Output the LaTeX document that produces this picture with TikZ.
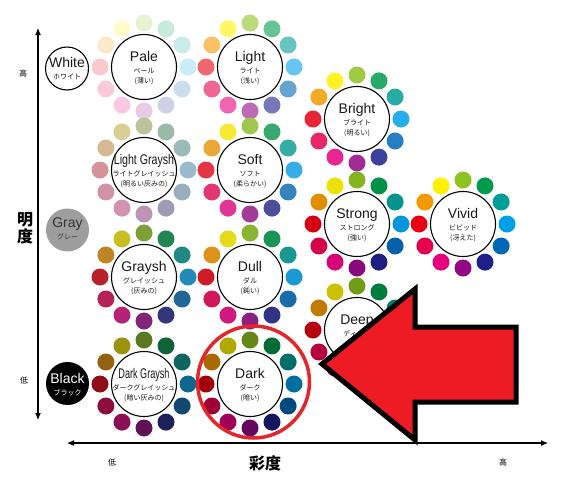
\documentclass[tikz,border=0pt]{standalone}
\usepackage{fontspec}
\setmainfont{Liberation Sans}
\newfontfamily\jp{Noto Sans CJK JP}
\usepackage{graphicx}
\usetikzlibrary{arrows.meta,calc}
\definecolor{hc0}{HTML}{8DC21F}
\definecolor{hc1}{HTML}{009B4C}
\definecolor{hc2}{HTML}{009E96}
\definecolor{hc3}{HTML}{00A0E9}
\definecolor{hc4}{HTML}{0068B7}
\definecolor{hc5}{HTML}{1D2088}
\definecolor{hc6}{HTML}{920783}
\definecolor{hc7}{HTML}{E4007F}
\definecolor{hc8}{HTML}{E5004F}
\definecolor{hc9}{HTML}{E60012}
\definecolor{hc10}{HTML}{F39800}
\definecolor{hc11}{HTML}{FFF100}
\definecolor{lgmix}{HTML}{CCC4C4}
\definecolor{sfmix}{HTML}{D8D8D8}
\definecolor{grmix}{HTML}{606060}
\definecolor{dlmix}{HTML}{808080}
\definecolor{dgmix}{HTML}{202020}
\definecolor{stmix}{HTML}{202020}
\definecolor{ringred}{HTML}{E3262B}
\definecolor{arrowred}{HTML}{ED1C24}
\definecolor{grayfill}{HTML}{9E9E9E}
\tikzset{
  tonec/.style={circle,draw=black,line width=1.1pt,fill=white,minimum size=65pt,inner sep=0pt},
  lbl/.style={anchor=base,inner sep=0pt,font=\fontsize{14}{16}\selectfont,text=black!90},
  subl/.style={anchor=base,inner sep=0pt,font=\jp\fontsize{7}{8}\selectfont,text=black!90},
  axis/.style={line width=1.1pt,{Latex[length=7pt,width=6pt]}-{Latex[length=7pt,width=6pt]}},
  axlbl/.style={font=\jp\fontsize{8}{9}\selectfont,inner sep=0pt},
  axttl/.style={font=\jp\bfseries\fontsize{16}{17}\selectfont,inner sep=0pt,align=center},
  solo/.style={circle,minimum size=43pt,inner sep=0pt},
}
\newcommand\tone[8]{%
  \foreach \i in {0,...,11}{\fill[hc\i!#4!#5] (#2,-#3) ++(90-30*\i:44) circle (8.5);}
  \node[tonec] (#1) at (#2,-#3) {};
  \node[lbl] (#1-l) at ([yshift=6pt]#1.center) {#6};
  \node[subl] (#1-a) at ([yshift=-6.7pt]#1.center) {#7};
  \node[subl] (#1-b) at ([yshift=-16.5pt]#1.center) {#8};
}
\begin{document}
\begin{tikzpicture}[x=1pt,y=1pt]
\useasboundingbox (0,0) rectangle (564,-477);
\fill[white] (0,0) rectangle (564,-477);

% tone wheels
\tone{pale}{144}{67}{21}{white}{Pale}{ペール}{(薄い)}
\tone{light}{250}{67}{60}{white}{Light}{ライト}{(浅い)}
\tone{bright}{357}{119}{85}{white}{Bright}{ブライト}{(明るい)}
\tone{lgraysh}{144}{170}{25}{lgmix}{\scalebox{0.76}[1]{Light Graysh}}{ライトグレイッシュ}{(明るい灰みの)}
\tone{soft}{250}{170}{75}{sfmix}{Soft}{ソフト}{(柔らかい)}
\tone{strong}{357}{224}{92}{stmix}{Strong}{ストロング}{(強い)}
\tone{vivid}{463}{224}{100}{white}{Vivid}{ビビッド}{(冴えた)}
\tone{graysh}{144}{277}{65}{grmix}{Graysh}{グレイッシュ}{(灰みの)}
\tone{dull}{250}{277}{80}{dlmix}{Dull}{ダル}{(鈍い)}
\tone{deep}{357}{330}{80}{black}{Deep}{ディープ}{(深い)}
\tone{dgraysh}{144}{384}{55}{dgmix}{\scalebox{0.65}[1]{Dark Graysh}}{ダークグレイッシュ}{(暗い灰みの)}
\tone{dark}{250}{384}{70}{black}{Dark}{ダーク}{(暗い)}

% achromatic
\node[solo,draw=black,line width=1.1pt,fill=white] (white) at (67,-68.5) {};
\node[lbl] (white-l) at ([yshift=1.5pt]white.center) {White};
\node[subl] (white-a) at ([yshift=-11pt]white.center) {ホワイト};
\node[solo,fill=grayfill] (gray) at (67.5,-230) {};
\node[lbl,text=black!80] (gray-l) at ([yshift=3pt]gray.center) {Gray};
\node[subl,text=black!80] (gray-a) at ([yshift=-9pt]gray.center) {グレー};
\node[solo,fill=black] (black) at (67.5,-383.5) {};
\node[lbl,text=white] (black-l) at ([yshift=0.5pt]black.center) {Black};
\node[subl,text=white] (black-a) at ([yshift=-12pt]black.center) {ブラック};

% axes
\coordinate (vtop) at (38,-28);
\coordinate (vbot) at (38,-420);
\coordinate (hl) at (67,-443);
\coordinate (hr) at (548,-443);
\draw[axis] (vbot) -- (vtop);
\draw[axis] (hl) -- (hr);
\node[axlbl] (hi-v) at (23,-73) {高};
\node[axlbl] (lo-v) at (24,-380) {低};
\node[axttl] (meido) at (25,-228) {明\\度};
\node[axlbl] (lo-h) at (112,-462) {低};
\node[axttl] (saido) at (265,-463) {彩度};
\node[axlbl] (hi-h) at (503,-462) {高};

% highlight ring
\node[circle,draw=ringred,line width=3.5pt,minimum size=112pt,inner sep=0pt] (hlring) at (253.5,-382) {};

% big arrow
\filldraw[fill=arrowred,draw=black,line width=5pt,line join=miter,miter limit=10]
  (322,-364) -- (415,-289) -- (415,-327) -- (516,-327) -- (516,-402) -- (415,-402) -- (415,-440) -- cycle;
\end{tikzpicture}
\end{document}
